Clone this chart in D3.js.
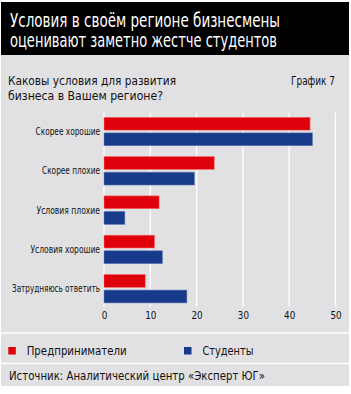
<!DOCTYPE html>
<html lang="ru">
<head>
<meta charset="UTF-8">
<title>Условия в своём регионе</title>
<style>
  body { margin: 0; background: #fff; }
  text { font-family: "Liberation Sans Narrow", "DejaVu Sans Condensed", "Roboto", sans-serif; }
</style>
<script src="https://d3js.org/d3.v7.min.js"></script>
</head>
<body>
<script>
// data
const categories = ["Скорее хорошие", "Скорее плохие", "Условия плохие", "Условия хорошие", "Затрудняюсь ответить"];
const series = ["Предприниматели", "Студенты"];
const entrepreneurs = [44.5, 23.8, 11.9, 10.9, 8.9];
const students = [45.0, 19.5, 4.5, 12.6, 17.9];
const xTicks = [0, 10, 20, 30, 40, 50];
const colors = ["#e0000b", "#173b8a"];

const width = 351, height = 394;

// the original uses a condensed face; squeeze each text to its width in the picture
const catWidths = [64.5, 58, 63.5, 69.5, 88];

function squeeze(sel, w) {
  sel.attr("textLength", w).attr("lengthAdjust", "spacingAndGlyphs");
}

const svg = d3.select("body").append("svg")
  .attr("width", width)
  .attr("height", height);

// background panels
svg.append("rect").attr("x", 1).attr("y", 2).attr("width", 348).attr("height", 53).attr("fill", "#000");
svg.append("rect").attr("x", 1).attr("y", 55).attr("width", 348).attr("height", 331).attr("fill", "#e1e1e3");

// title
const title = ["Условия в своём регионе бизнесмены", "оценивают заметно жестче студентов"];
const titleW = [270, 267];
svg.selectAll(".title").data(title).join("text")
  .attr("class", "title")
  .attr("x", 10)
  .attr("y", (d, i) => 26.5 + i * 20.5)
  .attr("fill", "#fff")
  .style("font-size", "19px")
  .attr("textLength", (d, i) => titleW[i])
  .attr("lengthAdjust", "spacingAndGlyphs")
  .text(d => d);

// subtitle
const subtitle = ["Каковы условия для развития", "бизнеса в Вашем регионе?"];
const subW = [168, 155];
svg.selectAll(".sub").data(subtitle).join("text")
  .attr("class", "sub")
  .attr("x", 8)
  .attr("y", (d, i) => 84.5 + i * 15.5)
  .attr("fill", "#111")
  .style("font-size", "13px")
  .attr("textLength", (d, i) => subW[i])
  .attr("lengthAdjust", "spacingAndGlyphs")
  .text(d => d);

svg.append("text")
  .attr("x", 291).attr("y", 84.5)
  .attr("fill", "#111")
  .style("font-size", "13px")
  .call(squeeze, 44)
  .text("График 7");

// scales
const x = d3.scaleLinear().domain([0, 50]).range([104, 335.5]);
const y = d3.scaleBand().domain(categories).range([111.8, 308.4]).paddingInner(0.277).paddingOuter(0.14);
const ySub = d3.scaleBand().domain(series).range([0, y.bandwidth()]).paddingInner(0.18);

const plotTop = 112.7, plotBottom = 306.7;

// grid
svg.selectAll(".grid").data(xTicks).join("line")
  .attr("class", "grid")
  .attr("x1", d => x(d)).attr("x2", d => x(d))
  .attr("y1", plotTop).attr("y2", plotBottom)
  .attr("stroke", "#fff")
  .attr("stroke-width", 1.3);

// x axis labels
const xAxis = svg.append("g")
  .attr("transform", `translate(0,${plotBottom + 5})`)
  .call(d3.axisBottom(x).tickValues(xTicks).tickSize(0).tickPadding(0));
xAxis.select(".domain").remove();
xAxis.selectAll("text")
  .attr("fill", "#111")
  .style("font-size", "10.5px")
  .style("font-family", "\"Liberation Sans Narrow\", \"DejaVu Sans Condensed\", Roboto, sans-serif")
  .attr("textLength", d => String(d).length * 5.6)
  .attr("lengthAdjust", "spacingAndGlyphs");

// bars
const rows = categories.map((c, i) => ({ cat: c, vals: [entrepreneurs[i], students[i]] }));
const groups = svg.selectAll(".grp").data(rows).join("g")
  .attr("class", "grp")
  .attr("transform", d => `translate(0,${y(d.cat)})`);

groups.selectAll("rect").data(d => d.vals.map((v, j) => ({ s: series[j], v: v, j: j }))).join("rect")
  .attr("x", x(0))
  .attr("y", d => ySub(d.s))
  .attr("width", d => x(d.v) - x(0))
  .attr("height", ySub.bandwidth())
  .attr("fill", d => colors[d.j])
  .attr("stroke", d => d.j === 0 ? "#f46a6a" : "#5a74b0")
  .attr("stroke-width", 0.6);

// category labels
svg.selectAll(".cat").data(categories).join("text")
  .attr("class", "cat")
  .attr("x", 100)
  .attr("y", d => y(d) + y.bandwidth() / 2)
  .attr("dy", "0.35em")
  .attr("text-anchor", "end")
  .attr("fill", "#111")
  .style("font-size", "10.5px")
  .attr("textLength", (d, i) => catWidths[i])
  .attr("lengthAdjust", "spacingAndGlyphs")
  .text(d => d);

// separators
svg.selectAll(".sep").data([333, 363.5]).join("line")
  .attr("class", "sep")
  .attr("x1", 1).attr("x2", 349)
  .attr("y1", d => d).attr("y2", d => d)
  .attr("stroke", "#fff").attr("stroke-width", 1.6);

// legend
const legendX = [8.3, 184];
const legendW = [100, 51];
const leg = svg.selectAll(".leg").data(series).join("g")
  .attr("class", "leg")
  .attr("transform", (d, i) => `translate(${legendX[i]},347)`);
leg.append("rect").attr("width", 7.5).attr("height", 7.5).attr("fill", (d, i) => colors[i]);
leg.append("text")
  .attr("x", 18.4).attr("y", 3.8).attr("dy", "0.35em")
  .attr("fill", "#111")
  .style("font-size", "13px")
  .attr("textLength", (d, i) => legendW[i])
  .attr("lengthAdjust", "spacingAndGlyphs")
  .text(d => d);

// source
svg.append("text")
  .attr("x", 9).attr("y", 375).attr("dy", "0.35em")
  .attr("fill", "#111")
  .style("font-size", "13px")
  .call(squeeze, 256)
  .text("Источник: Аналитический центр «Эксперт ЮГ»");
</script>
</body>
</html>
